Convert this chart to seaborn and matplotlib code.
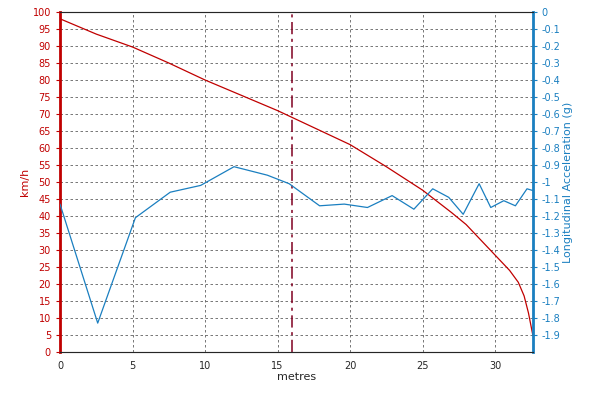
import matplotlib
matplotlib.use("Agg")
import matplotlib.pyplot as plt
import seaborn as sns
import numpy as np

speed_x = [0, 2.5, 5, 7.5, 10, 12.5, 15, 16, 17.5, 20, 22.5, 25, 27, 28, 29, 30, 31, 31.6, 32, 32.3, 32.6]
speed_kmh = [98, 93.5, 89.7, 85, 80, 75.5, 71, 69, 66, 61, 54.5, 47.6, 41, 37.5, 33, 28.5, 24, 20.5, 16.5, 11.5, 5]

acc_x = [0, 2.6, 5.2, 7.6, 9.7, 12, 14.3, 15.8, 17.9, 19.6, 21.2, 22.9, 24.4, 25.7, 26.8,
         27.8, 28.9, 29.7, 30.6, 31.4, 32.2, 32.6]
acc_g = [-1.13, -1.83, -1.21, -1.06, -1.02, -0.91, -0.96, -1.01, -1.14, -1.13, -1.15, -1.08,
         -1.16, -1.04, -1.09, -1.19, -1.01, -1.15, -1.11, -1.14, -1.04, -1.05]

marker_x = 16

sns.set_style("white")
plt.rcParams['font.family'] = ['DejaVu Sans']
fig, ax = plt.subplots(figsize=(6, 4), dpi=100)
fig.subplots_adjust(left=0.1, right=0.888, top=0.97, bottom=0.12)

sns.lineplot(x=speed_x, y=speed_kmh, ax=ax, color="#c00000", linewidth=0.9)
ax.set_xlim(0, 32.6)
ax.set_ylim(0, 100)
ax.set_yticks(range(0, 101, 5))
ax.set_xticks(range(0, 31, 5))
ax.set_xlabel("metres", fontsize=8, labelpad=1)
ax.set_ylabel("km/h", fontsize=8, color="#c00000", labelpad=2)
ax.tick_params(axis="y", colors="#c00000", labelsize=7, length=3)
ax.tick_params(axis="x", labelsize=7, length=3)
ax.grid(True, color="#606060", linestyle=(0, (3, 3)), linewidth=0.6)
ax.axvline(marker_x, color="#800020", linestyle=(0, (8, 3, 2, 3)), linewidth=1.1)
for s in ax.spines.values():
    s.set_color("#808080")
ax.spines["left"].set_color("#c00000")
ax.spines["left"].set_linewidth(2)

ax2 = ax.twinx()
sns.lineplot(x=acc_x, y=acc_g, ax=ax2, color="#1a7fc0", linewidth=0.9)
ax2.set_ylim(-2, 0)
ticks = np.round(np.arange(-1.9, 0.01, 0.1), 1)
ax2.set_yticks(ticks)
ax2.set_yticklabels([("%g" % v) for v in ticks])
ax2.set_ylabel("Longitudinal Acceleration (g)", fontsize=8, color="#1a7fc0", labelpad=2)
ax2.tick_params(axis="y", colors="#1a7fc0", labelsize=7, length=3)
ax2.spines["right"].set_color("#1a7fc0")
ax2.spines["right"].set_linewidth(2)
ax2.spines["left"].set_visible(False)

fig.savefig("out.png")
